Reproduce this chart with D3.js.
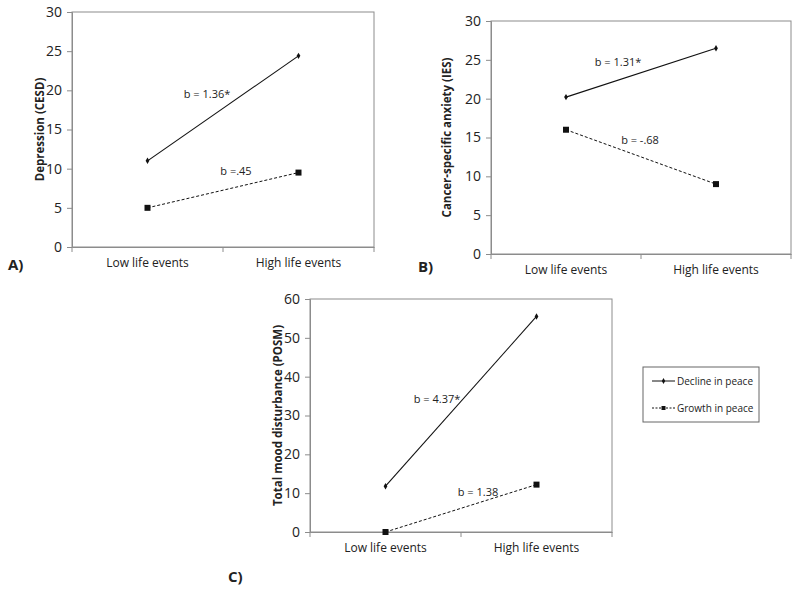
<!DOCTYPE html>
<html><head><meta charset="utf-8">
<script src="https://cdn.jsdelivr.net/npm/d3@7"></script>
<style>body{margin:0;background:#fff}svg{display:block}text{font-family:"Open Sans","Liberation Sans",sans-serif;fill:#222}</style>
</head><body>
<script>
const categories = ["Low life events", "High life events"];
const seriesNames = ["Decline in peace", "Growth in peace"];
const declineA = [11.0, 24.4];
const growthA = [5.0, 9.5];
const declineB = [20.2, 26.5];
const growthB = [16.0, 9.0];
const declineC = [11.8, 55.5];
const growthC = [0.0, 12.2];
const yTicksAB = [0, 5, 10, 15, 20, 25, 30];
const yTicksC = [0, 10, 20, 30, 40, 50, 60];
const yLabels = ["Depression (CESD)", "Cancer-specific anxiety (IES)", "Total mood disturbance (POSM)"];
const panelTags = ["A)", "B)", "C)"];
const slopeLabels = [["b = 1.36*", "b =.45"], ["b = 1.31*", "b = -.68"], ["b = 4.37*", "b = 1.38"]];

const W = 800, H = 592;
const svg = d3.select("body").append("svg").attr("width", W).attr("height", H);

const panels = [
  {x0:72, x1:374, y0:12, y1:247, max:30, ticks:yTicksAB, dec:declineA, gro:growthA, ylx:40, tag:[8,270],
   ann:[[207,98],[236,175]]},
  {x0:491, x1:791, y0:21, y1:254, max:30, ticks:yTicksAB, dec:declineB, gro:growthB, ylx:447, tag:[418,272],
   ann:[[618,66],[640,144]]},
  {x0:310, x1:612, y0:299, y1:532, max:60, ticks:yTicksC, dec:declineC, gro:growthC, ylx:278, tag:[228,582],
   ann:[[437,403],[478,496]]}
];

panels.forEach((p, i) => {
  const g = svg.append("g");
  const x = d3.scaleBand().domain(categories).range([p.x0, p.x1]);
  const y = d3.scaleLinear().domain([0, p.max]).range([p.y1, p.y0]);
  g.append("rect").attr("x", p.x0).attr("y", p.y0).attr("width", p.x1 - p.x0).attr("height", p.y1 - p.y0)
    .attr("fill", "none").attr("stroke", "#8c8c8c").attr("stroke-width", 1);
  const ya = g.append("g").attr("transform", `translate(${p.x0},0)`)
    .call(d3.axisLeft(y).tickValues(p.ticks).tickSize(5).tickPadding(5));
  ya.select(".domain").attr("stroke", "#8c8c8c");
  ya.selectAll(".tick line").attr("stroke", "#8c8c8c");
  ya.selectAll("text").style("font-size", "14px").attr("fill", "#222");
  const xa = g.append("g").attr("transform", `translate(0,${p.y1})`)
    .call(d3.axisBottom(x).tickSize(0).tickPadding(11));
  xa.select(".domain").attr("stroke", "#8c8c8c");
  xa.selectAll("text").style("font-size", "12px").attr("fill", "#222");
  const bounds = [p.x0, p.x0 + x.bandwidth(), p.x1];
  g.selectAll(".bt").data(bounds).enter().append("line")
    .attr("x1", d => d).attr("x2", d => d).attr("y1", p.y1).attr("y2", p.y1 + 5)
    .attr("stroke", "#8c8c8c");
  g.append("text").attr("transform", `translate(${p.ylx},${(p.y0 + p.y1) / 2}) rotate(-90)`)
    .attr("text-anchor", "middle").attr("dy", "0.35em")
    .style("font-size", "11.5px").style("font-weight", "bold").text(yLabels[i]);
  g.append("text").attr("x", p.tag[0]).attr("y", p.tag[1]).style("font-size", "15px")
    .style("font-weight", "bold").text(panelTags[i]);
  const cx = d => x(d) + x.bandwidth() / 2;
  const line = d3.line().x((d, j) => cx(categories[j])).y(d => y(d));
  g.append("path").datum(p.dec).attr("d", line).attr("fill", "none").attr("stroke", "#111").attr("stroke-width", 1.1);
  g.append("path").datum(p.gro).attr("d", line).attr("fill", "none").attr("stroke", "#111").attr("stroke-width", 1)
    .attr("stroke-dasharray", "3,2");
  g.selectAll(".dm").data(p.dec).enter().append("path")
    .attr("d", d3.symbol(d3.symbolDiamond, 12))
    .attr("transform", (d, j) => `translate(${cx(categories[j])},${y(d)})`).attr("fill", "#111");
  g.selectAll(".sq").data(p.gro).enter().append("path")
    .attr("d", d3.symbol(d3.symbolSquare, 36))
    .attr("transform", (d, j) => `translate(${cx(categories[j])},${y(d)})`).attr("fill", "#111");
  slopeLabels[i].forEach((t, k) => {
    g.append("text").attr("x", p.ann[k][0]).attr("y", p.ann[k][1]).attr("text-anchor", "middle")
      .style("font-size", "11px").text(t);
  });
});

const lg = svg.append("g");
lg.append("rect").attr("x", 643).attr("y", 367).attr("width", 116).attr("height", 55)
  .attr("fill", "#fff").attr("stroke", "#666");
const lItems = [{y:381, dash:null, sym:d3.symbolDiamond, size:10}, {y:408, dash:"2,1.5", sym:d3.symbolSquare, size:16}];
lItems.forEach((it, k) => {
  lg.append("line").attr("x1", 652).attr("x2", 675).attr("y1", it.y).attr("y2", it.y)
    .attr("stroke", "#111").attr("stroke-dasharray", it.dash);
  lg.append("path").attr("d", d3.symbol(it.sym, it.size)).attr("transform", `translate(663.5,${it.y})`).attr("fill", "#111");
  lg.append("text").attr("x", 677).attr("y", it.y).attr("dy", "0.35em").style("font-size", "10px").text(seriesNames[k]);
});
</script>
</body></html>
